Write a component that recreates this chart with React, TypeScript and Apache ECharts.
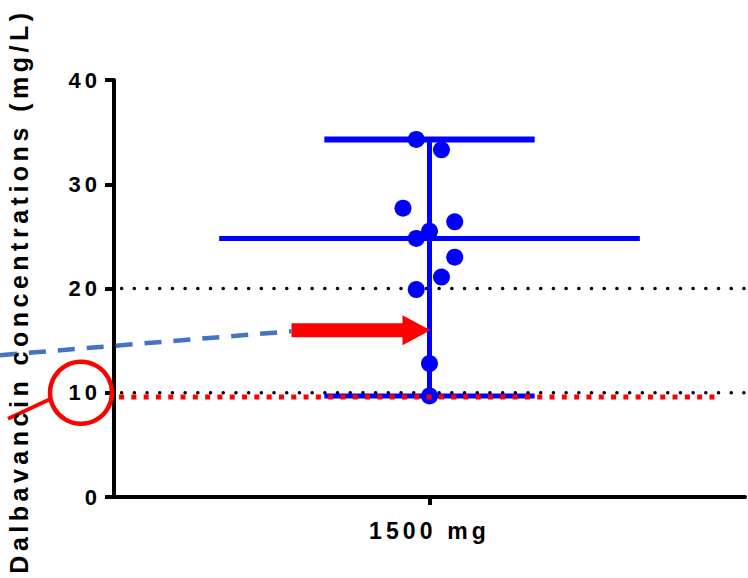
import React, { useEffect, useRef } from "react";
import * as echarts from "echarts";

const categories = ["1500 mg"];
const concentrations = [34.3, 33.3, 27.7, 26.4, 25.5, 24.8, 23.0, 21.1, 19.9, 12.8, 9.7];
const jitter = [-0.021, 0.019, -0.042, 0.04, 0, -0.021, 0.04, 0.019, -0.021, 0, 0];
const referenceLines = [20, 10];
const thresholdLevel = 9.6;
const arrowLevel = 16;
const yTitle = "Dalbavancin concentrations (mg/L)";

const FONT = "'Liberation Sans', Arial, sans-serif";

function median(arr: number[]) {
  const s = [...arr].sort((a, b) => a - b);
  const m = Math.floor(s.length / 2);
  return s.length % 2 ? s[m] : (s[m - 1] + s[m]) / 2;
}

export default function App() {
  const ref = useRef<HTMLDivElement>(null);
  useEffect(() => {
    document.body.style.margin = "0";
    const chart = echarts.init(ref.current!, undefined, { renderer: "svg" });
    const med = median(concentrations);
    const mn = Math.min(...concentrations);
    const mx = Math.max(...concentrations);
    const blue = "#0000FF";
    const seg = (data: number[][], width: number, z = 2) => ({
      type: "line",
      xAxisIndex: 1,
      yAxisIndex: 0,
      data,
      showSymbol: false,
      symbol: "none",
      silent: true,
      z,
      lineStyle: { color: blue, width, cap: "butt" },
    });
    chart.setOption({
      animation: false,
      grid: { left: 114, right: 3, top: 80, bottom: 81, containLabel: false },
      xAxis: [
        {
          type: "category",
          data: categories,
          boundaryGap: true,
          axisLine: { show: true, lineStyle: { color: "#000", width: 4 } },
          axisTick: { show: true, alignWithLabel: true, length: 8, lineStyle: { color: "#000", width: 4 } },
          axisLabel: { fontSize: 23, fontWeight: "bold", color: "#000", margin: 22, fontFamily: FONT },
          splitLine: { show: false },
        },
        { type: "value", min: 0, max: 1, show: false },
      ],
      yAxis: {
        type: "value",
        min: 0,
        max: 40,
        interval: 10,
        axisLine: { show: true, lineStyle: { color: "#000", width: 4 } },
        axisTick: { show: true, length: 9, lineStyle: { color: "#000", width: 4 } },
        axisLabel: { fontSize: 22, fontWeight: "bold", color: "#000", margin: 13, fontFamily: FONT },
        splitLine: { show: false },
      },
      series: [
        ...referenceLines.map((v) => ({
          type: "line",
          xAxisIndex: 1,
          data: [[0.012, v], [1, v]],
          symbol: "none",
          silent: true,
          z: 1,
          lineStyle: { color: "#000", width: 3.5, type: [0.1, 12.6], cap: "round" },
        })),
        seg([[1 / 6, med], [5 / 6, med]], 5),
        seg([[1 / 3, mx], [2 / 3, mx]], 6),
        seg([[1 / 3, mn], [2 / 3, mn]], 5),
        seg([[0.5, mn], [0.5, mx]], 5),
        {
          type: "scatter",
          xAxisIndex: 1,
          data: concentrations.map((v, i) => [0.5 + jitter[i], v]),
          symbolSize: 17,
          itemStyle: { color: blue, opacity: 1 },
          z: 3,
        },
        {
          type: "line",
          xAxisIndex: 1,
          data: [[0.008, thresholdLevel], [0.957, thresholdLevel]],
          symbol: "none",
          silent: true,
          z: 5,
          lineStyle: { color: "#FF0000", width: 5, type: [5, 7.3], cap: "butt" },
        },
      ],
    });
    const ay = chart.convertToPixel({ yAxisIndex: 0 }, arrowLevel) as number;
    const tipX = chart.convertToPixel({ xAxisIndex: 1 }, 0.5) as number;
    const lineY = chart.convertToPixel({ yAxisIndex: 0 }, 10) as number;
    const tailX = tipX - 138;
    const headX = tipX - 27;
    chart.setOption({
      graphic: [
        {
          type: "line",
          z: 4,
          shape: { x1: 0, y1: ay + 25, x2: tailX, y2: ay + 1 },
          style: { stroke: "#4472C4", lineWidth: 4.5, lineDash: [17, 12] },
        },
        {
          type: "polygon",
          z: 10,
          shape: {
            points: [
              [tailX, ay - 7],
              [headX, ay - 7],
              [headX, ay - 15],
              [tipX + 1, ay],
              [headX, ay + 15],
              [headX, ay + 7],
              [tailX, ay + 7],
            ],
          },
          style: { fill: "#FF0000" },
        },
        {
          type: "circle",
          z: 10,
          shape: { cx: 81, cy: lineY, r: 31 },
          style: { fill: "none", stroke: "#FF0000", lineWidth: 4.5 },
        },
        {
          type: "line",
          z: 10,
          shape: { x1: 8, y1: lineY + 26, x2: 51, y2: lineY + 6 },
          style: { stroke: "#FF0000", lineWidth: 4 },
        },
        {
          type: "text",
          z: 20,
          x: 19,
          y: 291,
          rotation: Math.PI / 2,
          style: {
            text: yTitle,
            fill: "#000",
            fontSize: 25,
            fontWeight: "bold",
            fontFamily: FONT,
            align: "center",
            verticalAlign: "middle",
          },
        },
      ],
    });
    return () => chart.dispose();
  }, []);
  return (
    <>
      <style>{`.chartbox text { letter-spacing: 0.18em; }`}</style>
      <div className="chartbox" ref={ref} style={{ width: 748, height: 578 }} />
    </>
  );
}
